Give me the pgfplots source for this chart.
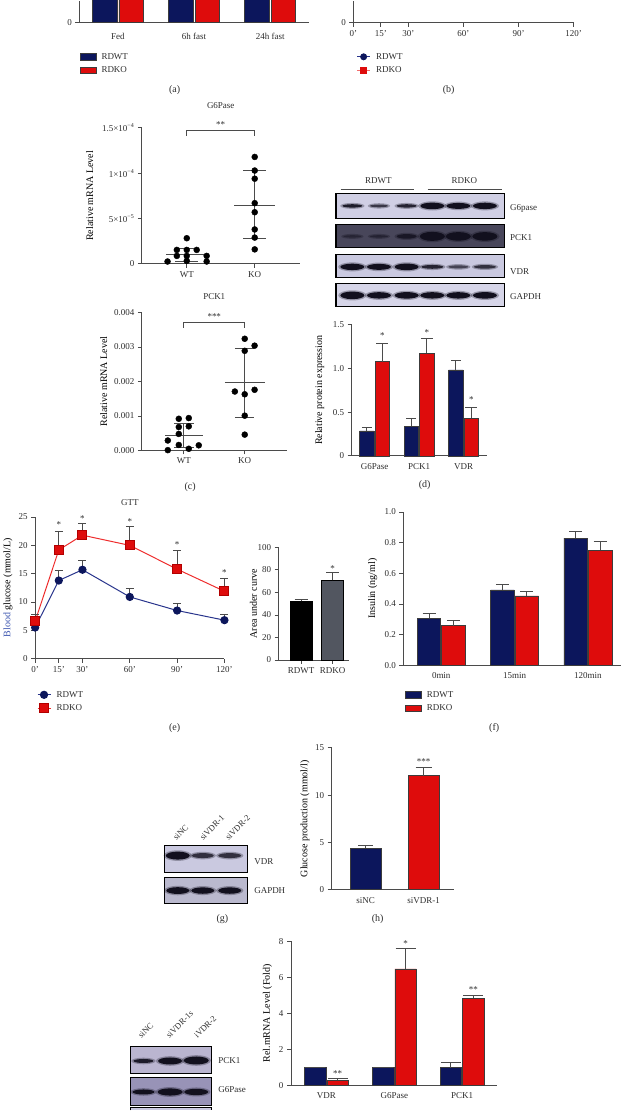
\documentclass[border=0pt]{standalone}
\usepackage{fontspec}
\setmainfont{Liberation Serif}
\usepackage{pgfplots}
\pgfplotsset{compat=1.18}

\definecolor{navy}{RGB}{12,22,92}
\definecolor{kored}{RGB}{222,12,12}
\definecolor{axgray}{RGB}{75,75,75}
\definecolor{txt}{RGB}{45,45,45}
\definecolor{linered}{RGB}{238,45,45}
\definecolor{lineblue}{RGB}{40,52,140}
\definecolor{kogray}{RGB}{82,86,96}
\definecolor{bloodblue}{RGB}{60,85,175}
\definecolor{baredge}{RGB}{60,60,60}
\definecolor{blotA}{RGB}{208,207,228}
\definecolor{blotB}{RGB}{72,70,90}
\definecolor{blotC}{RGB}{202,201,224}
\definecolor{blotD}{RGB}{214,213,232}
\definecolor{blotE}{RGB}{186,181,208}
\definecolor{blotF}{RGB}{152,147,183}
\definecolor{bandc}{RGB}{18,16,30}

\newcommand{\fs}{\fontsize{9}{10}\selectfont}
\newcommand{\fr}{\fontsize{8.5}{10}\selectfont}
\newcommand{\fl}{\fontsize{10}{12}\selectfont}
\newcommand{\band}[5]{%
  \fill[bandc, opacity=0.3] (#1,#2) ellipse [x radius={#3pt+2.2pt}, y radius={#4pt+1.3pt}];
  \fill[bandc, opacity=#5] (#1,#2) ellipse [x radius=#3pt, y radius=#4pt];}

\pgfplotsset{
  gp/.style={
    scale only axis, anchor=south west, clip=false,
    axis lines*=left,
    axis line style={axgray, line width=0.9pt},
    every tick/.style={axgray, line width=0.9pt},
    tick align=outside, major tick length=4pt,
    tick label style={font=\fs, text=txt},
    label style={font=\fs, text=txt},
    title style={font=\fs, text=txt},
    /pgf/number format/assume math mode=true,
    legend style={draw=none, fill=none, font=\fs, text=txt, inner sep=0pt, row sep=3.8pt, column sep=5pt,
      nodes={inner sep=0.5pt, text height=6.5pt, text depth=2pt}},
    legend cell align=left,
  },
  ylx/.style={every axis y label/.style={at={(axis description cs:#1,0.5)}, rotate=90, anchor=center}},
  barstyle/.style={draw=baredge, line width=0.5pt},
  errs/.style={error bars/y dir=plus, error bars/y explicit,
    error bars/error bar style={axgray, line width=0.9pt},
    error bars/error mark options={axgray, line width=0.9pt, rotate=90, mark size=#1}},
  barleg/.style={legend image code/.code={\draw[##1] (0pt,-3.3pt) rectangle (16pt,3.3pt);}},
  lineleg/.style={legend image code/.code={\draw[mark repeat=2, mark phase=2, ##1] plot coordinates {(0pt,0pt) (6.5pt,0pt) (13pt,0pt)};}},
  noxt/.style={xtick style={draw=none}},
}

\begin{document}
\begin{tikzpicture}
\path (0,0) rectangle (623pt,-1111pt);

% ---------------- (a) (top of panel is cut off) ----------------
\begin{axis}[gp, noxt, clip=true, at={(77.5pt,-22.7pt)}, width=229.5pt, height=22.2pt,
  xmin=0.495, xmax=3.505, ymin=0, ymax=1.11, ytick={0},
  xtick={1,2,3}, xticklabels={Fed,6h fast,24h fast},
  xticklabel style={yshift=-3pt},
  ybar=2pt, bar width=24.5pt, barleg,
  legend style={at={(axis description cs:0,0)}, anchor=north west, xshift=0pt, yshift=-29.2pt}]
\addplot[fill=navy, barstyle] coordinates {(1,7.5) (2,6.0) (3,4.8)};
\addplot[fill=kored, barstyle] coordinates {(1,8.2) (2,7.0) (3,6.0)};
\legend{RDWT,RDKO}
\end{axis}

% ---------------- (b) (top of panel is cut off) ----------------
\begin{axis}[gp, clip=true, at={(351.6pt,-22.7pt)}, width=220.5pt, height=22.2pt,
  xmin=0, xmax=120, ymin=0, ymax=1.11, ytick={0},
  xtick={0,15,30,60,90,120}, xticklabels={0',15',30',60',90',120'},
  lineleg,
  legend style={at={(axis description cs:0,0)}, anchor=north west, xshift=3.2pt, yshift=-29.2pt}]
\addplot[lineblue, line width=0.9pt, mark=*, mark size=3pt, mark options={fill=navy, draw=navy}] coordinates {(0,7.2) (15,5.2) (30,4.4) (60,4.6) (90,5.4) (120,6.0)};
\addplot[linered!70, line width=0.9pt, mark=square*, mark size=3pt, mark options={fill=kored, draw=kored}] coordinates {(0,7.6) (15,6.4) (30,5.6) (60,6.0) (90,6.7) (120,7.1)};
\legend{RDWT,RDKO}
\end{axis}

% ---------------- (c) G6Pase ----------------
\begin{axis}[gp, at={(140pt,-264pt)}, width=158pt, height=136pt,
  xmin=0.338, xmax=2.662, ymin=0, ymax=15,
  xtick={1,2}, xticklabels={WT,KO},
  ytick={0,5,10,15}, yticklabels={0,5×10\textsuperscript{−5},1×10\textsuperscript{−4},1.5×10\textsuperscript{−4}},
  title={G6Pase}, title style={yshift=10pt},
  ylabel={Relative mRNA Level}, ylx=-0.329]
\addplot[only marks, mark=*, mark size=3pt, black] coordinates {
 (1,2.83) (0.854,1.54) (1,1.54) (1.146,1.54) (0.854,0.88) (1,0.88) (1.293,0.88) (0.717,0.26) (1,0.33) (1.293,0.26)};
\addplot[only marks, mark=*, mark size=3pt, black] coordinates {
 (2,11.8) (2,10.3) (2,9.4) (2,6.7) (2,5.7) (2,3.8) (2,2.9) (2,1.6)};
\addplot[axgray, line width=0.9pt] coordinates {(0.7,1.0) (1.3,1.0)};
\addplot[axgray, line width=0.9pt] coordinates {(1,0.3) (1,1.73)};
\addplot[axgray, line width=0.9pt] coordinates {(0.83,1.73) (1.17,1.73)};
\addplot[axgray, line width=0.9pt] coordinates {(0.83,0.3) (1.17,0.3)};
\addplot[axgray, line width=0.9pt] coordinates {(1.7,6.5) (2.3,6.5)};
\addplot[axgray, line width=0.9pt] coordinates {(2,2.83) (2,10.26)};
\addplot[axgray, line width=0.9pt] coordinates {(1.83,10.26) (2.17,10.26)};
\addplot[axgray, line width=0.9pt] coordinates {(1.83,2.83) (2.17,2.83)};
\addplot[axgray, line width=0.7pt] coordinates {(1,14.12) (1,14.78) (2,14.78) (2,14.12)};
\node[font=\fs, text=txt, anchor=base] at (axis cs:1.5,15.1) {**};
\end{axis}

% ---------------- (c) PCK1 ----------------
\begin{axis}[gp, at={(140pt,-450.7pt)}, width=145pt, height=138pt,
  xmin=0.311, xmax=2.689, ymin=0, ymax=4,
  xtick={1,2}, xticklabels={WT,KO},
  ytick={0,1,2,3,4}, yticklabels={0.000,0.001,0.002,0.003,0.004},
  title={PCK1}, title style={yshift=3pt},
  ylabel={Relative mRNA Level}, ylx=-0.262]
\addplot[only marks, mark=*, mark size=3pt, black] coordinates {
 (0.918,0.92) (1.082,0.94) (0.918,0.68) (1.082,0.70) (0.918,0.48) (0.738,0.29) (0.918,0.16) (1.246,0.15) (0.738,0.01) (1.082,0.05)};
\addplot[only marks, mark=*, mark size=3pt, black] coordinates {
 (2,3.24) (2.162,3.04) (2,2.89) (1.838,1.71) (2.162,1.76) (2,1.63) (2,1.01) (2,0.46)};
\addplot[axgray, line width=0.9pt] coordinates {(0.7,0.435) (1.32,0.435)};
\addplot[axgray, line width=0.9pt] coordinates {(1,0.10) (1,0.79)};
\addplot[axgray, line width=0.9pt] coordinates {(0.84,0.79) (1.16,0.79)};
\addplot[axgray, line width=0.9pt] coordinates {(0.84,0.10) (1.16,0.10)};
\addplot[axgray, line width=0.9pt] coordinates {(1.675,1.97) (2.325,1.97)};
\addplot[axgray, line width=0.9pt] coordinates {(2,0.96) (2,2.97)};
\addplot[axgray, line width=0.9pt] coordinates {(1.84,2.97) (2.16,2.97)};
\addplot[axgray, line width=0.9pt] coordinates {(1.84,0.96) (2.16,0.96)};
\addplot[axgray, line width=0.7pt] coordinates {(1,3.556) (1,3.71) (2,3.71) (2,3.556)};
\node[font=\fs, text=txt, anchor=base] at (axis cs:1.5,3.794) {***};
\end{axis}

% ---------------- (d) bars ----------------
\begin{axis}[gp, noxt, at={(350pt,-456pt)}, width=135pt, height=131pt,
  xmin=0.483, xmax=3.517, ymin=0, ymax=1.5,
  ytick={0,0.5,1,1.5}, yticklabels={0,0.5,1.0,1.5},
  xtick={1,2,3}, xticklabels={G6Pase,PCK1,VDR},
  ylabel={Relative protein expression}, ylx=-0.237,
  ybar=1pt, bar width=14.5pt]
\addplot[fill=navy, barstyle, errs=5pt] coordinates {(1,0.286) +- (0,0.038) (2,0.336) +- (0,0.095) (3,0.985) +- (0,0.105)};
\addplot[fill=kored, barstyle, errs=6pt] coordinates {(1,1.08) +- (0,0.21) (2,1.176) +- (0,0.164) (3,0.43) +- (0,0.12)};
\node[font=\fs, text=txt, anchor=base, xshift=7.75pt] at (axis cs:1,1.342) {*};
\node[font=\fs, text=txt, anchor=base, xshift=7.75pt] at (axis cs:2,1.377) {*};
\node[font=\fs, text=txt, anchor=base, xshift=7.75pt] at (axis cs:3,0.606) {*};
\end{axis}

% ---------------- (e) GTT ----------------
\begin{axis}[gp, at={(33.3pt,-659pt)}, width=189.4pt, height=141.7pt,
  xmin=0, xmax=120, ymin=0, ymax=25, ytick={0,5,...,25},
  xtick={0,15,30,60,90,120}, xticklabels={0',15',30',60',90',120'},
  title={GTT}, title style={yshift=2pt},
  ylabel={{\color{bloodblue}Blood} glucose (mmol/L)}, ylx=-0.144,
  lineleg,
  legend style={at={(axis description cs:0,0)}, anchor=north west, xshift=1.7pt, yshift=-31.2pt}]
\addplot[lineblue, line width=1pt, mark=*, mark size=3.6pt, mark options={fill=navy, draw=navy}, errs=4pt] coordinates {
 (0,5.5) +- (0,0.6) (15,13.8) +- (0,1.8) (30,15.7) +- (0,1.6) (60,10.9) +- (0,1.45) (90,8.5) +- (0,1.2) (120,6.8) +- (0,1.0)};
\addplot[linered, line width=1pt, mark=square*, mark size=4.5pt, mark options={fill=kored, draw=red!70!black}, errs=4pt] coordinates {
 (0,6.6) +- (0,1.2) (15,19.2) +- (0,3.3) (30,21.8) +- (0,2.0) (60,20.0) +- (0,3.35) (90,15.8) +- (0,3.25) (120,11.9) +- (0,2.2)};
\legend{RDWT,RDKO}
\node[font=\fs, text=txt, anchor=base] at (axis cs:15,23.09) {*};
\node[font=\fs, text=txt, anchor=base] at (axis cs:30,24.26) {*};
\node[font=\fs, text=txt, anchor=base] at (axis cs:60,23.73) {*};
\node[font=\fs, text=txt, anchor=base] at (axis cs:90,19.57) {*};
\node[font=\fs, text=txt, anchor=base] at (axis cs:120,14.73) {*};
\end{axis}

% ---------------- (e) AUC ----------------
\begin{axis}[gp, at={(277pt,-660.3pt)}, width=70pt, height=112.6pt,
  xmin=0.286, xmax=2.508, ymin=0, ymax=100, ytick={0,20,...,100},
  xtick={1,2}, xticklabels={RDWT,RDKO},
  ylabel={Area under curve}, ylx=-0.36,
  ybar, bar width=22pt]
\addplot[fill=black, draw=black, bar shift=0pt, errs=6.5pt] coordinates {(1,52) +- (0,2)};
\addplot[fill=kogray, draw=black, bar shift=0pt, errs=6.5pt] coordinates {(2,70.7) +- (0,7.1)};
\node[font=\fs, text=txt, anchor=base] at (axis cs:2,78.3) {*};
\end{axis}

% ---------------- (f) insulin ----------------
\begin{axis}[gp, noxt, at={(401.7pt,-665.7pt)}, width=218pt, height=153.4pt,
  xmin=0.483, xmax=3.456, ymin=0, ymax=1.0, ytick={0,0.2,0.4,0.6,0.8,1.0},
  yticklabels={0.0,0.2,0.4,0.6,0.8,1.0},
  xtick={1,2,3}, xticklabels={0min,15min,120min},
  ylabel={Insulin (ng/ml)}, ylx=-0.141,
  ybar=1pt, bar width=23.5pt, barleg,
  legend style={at={(axis description cs:0,0)}, anchor=north west, xshift=1.3pt, yshift=-24.5pt}]
\addplot[fill=navy, barstyle, errs=6.5pt] coordinates {(1,0.309) +- (0,0.028) (2,0.493) +- (0,0.037) (3,0.83) +- (0,0.043)};
\addplot[fill=kored, barstyle, errs=6.5pt] coordinates {(1,0.26) +- (0,0.033) (2,0.454) +- (0,0.028) (3,0.752) +- (0,0.056)};
\legend{RDWT,RDKO}
\end{axis}

% ---------------- (h) glucose production ----------------
\begin{axis}[gp, noxt, at={(330pt,-890pt)}, width=122pt, height=141.7pt,
  xmin=0.414, xmax=2.517, ymin=0, ymax=15, ytick={0,5,10,15},
  xtick={1,2}, xticklabels={siNC,siVDR-1},
  ylabel={Glucose production (mmol/l)}, ylx=-0.219,
  ybar, bar width=31pt]
\addplot[fill=navy, barstyle, bar shift=0pt, errs=7.5pt] coordinates {(1,4.41) +- (0,0.25)};
\addplot[fill=kored, barstyle, bar shift=0pt, errs=8pt] coordinates {(2,12.06) +- (0,0.92)};
\node[font=\fs, text=txt, anchor=base] at (axis cs:2,13.28) {***};
\end{axis}

% ---------------- (i) rel mRNA ----------------
\begin{axis}[gp, noxt, at={(289.3pt,-1085.7pt)}, width=205.7pt, height=144pt,
  xmin=0.477, xmax=3.508, ymin=0, ymax=8, ytick={0,2,...,8},
  xtick={1,2,3}, xticklabels={VDR,G6Pase,PCK1},
  ylabel={Rel.mRNA Level (Fold)}, ylx=-0.115,
  ybar=1pt, bar width=21.5pt]
\addplot[fill=navy, barstyle, errs=10pt] coordinates {(1,0.97) +- (0,0.03) (2,0.97) +- (0,0.03) (3,0.97) +- (0,0.31)};
\addplot[fill=kored, barstyle, errs=10pt] coordinates {(1,0.28) +- (0,0.07) (2,6.47) +- (0,1.11) (3,4.82) +- (0,0.16)};
\node[font=\fs, text=txt, anchor=base, xshift=11.25pt] at (axis cs:1,0.51) {**};
\node[font=\fs, text=txt, anchor=base, xshift=11.25pt] at (axis cs:2,7.73) {*};
\node[font=\fs, text=txt, anchor=base, xshift=11.25pt] at (axis cs:3,5.14) {**};
\end{axis}

% ---------------- blots and labels ----------------
\begin{scope}[x=1pt,y=-1pt]
\node[font=\fl, text=txt] at (172.8,90) {(a)};
\node[font=\fl, text=txt] at (447,90) {(b)};
\node[font=\fl, text=txt] at (188.3,487) {(c)};
\node[font=\fl, text=txt] at (423,485) {(d)};
\node[font=\fl, text=txt] at (172.8,728.3) {(e)};
\node[font=\fl, text=txt] at (492.6,728.3) {(f)};
\node[font=\fl, text=txt] at (220.7,920) {(g)};
\node[font=\fl, text=txt] at (376,920) {(h)};

% (d) blot
\node[font=\fs, text=txt] at (376.7,181) {RDWT};
\node[font=\fs, text=txt] at (462.7,181) {RDKO};
\draw[axgray, line width=0.8pt] (339,189) -- (412.7,189);
\draw[axgray, line width=0.8pt] (426,189) -- (500,189);
\fill[blotA] (334.3,193.3) rectangle (502.7,218.3);
\band{350.7}{206}{10}{1.7}{0.9}
\band{377.3}{206}{9}{1.4}{0.7}
\band{405}{206}{10}{1.7}{0.85}
\band{430.7}{206}{12}{3.3}{1}
\band{456.7}{206}{12}{3}{1}
\band{483.3}{206}{12}{3.2}{1}
\draw[black, line width=1.1pt] (334.3,193.3) rectangle (502.7,218.3);
\fill[blotB] (334.3,224.3) rectangle (502.7,247.7);
\band{350.7}{236.5}{9}{1.2}{0.45}
\band{377.3}{236.5}{9}{1.2}{0.5}
\band{405}{236.5}{10}{2.3}{0.8}
\band{430.7}{236.5}{12.5}{4.5}{1}
\band{456.7}{236.5}{12.5}{4.3}{1}
\band{483.3}{236.5}{12.5}{4.3}{1}
\draw[black, line width=1.1pt] (334.3,224.3) rectangle (502.7,247.7);
\fill[blotC] (334.3,254.3) rectangle (502.7,277.7);
\band{350.7}{267}{12}{3.2}{1}
\band{377.3}{267}{12}{3}{1}
\band{405}{267}{12}{3.3}{1}
\band{430.7}{267}{11}{1.9}{0.85}
\band{456.7}{267}{10}{1.5}{0.6}
\band{483.3}{267}{11}{1.8}{0.75}
\draw[black, line width=1.1pt] (334.3,254.3) rectangle (502.7,277.7);
\fill[blotD] (334.3,284) rectangle (502.7,306.7);
\band{350.7}{295.5}{12}{3.8}{1}
\band{377.3}{295.5}{12}{3.2}{1}
\band{405}{295.5}{12}{3.3}{1}
\band{430.7}{295.5}{12}{3.2}{1}
\band{456.7}{295.5}{12}{3.2}{1}
\band{483.3}{295.5}{12}{3.3}{1}
\draw[black, line width=1.1pt] (334.3,284) rectangle (502.7,306.7);
\node[font=\fs, text=txt, anchor=west] at (505,209) {G6pase};
\node[font=\fs, text=txt, anchor=west] at (505,237.7) {PCK1};
\node[font=\fs, text=txt, anchor=west] at (505,272) {VDR};
\node[font=\fs, text=txt, anchor=west] at (505,296.7) {GAPDH};

% (g) blot
\node[font=\fr, text=txt, rotate=45, anchor=base west, inner sep=1pt] at (174,841.7) {siNC};
\node[font=\fr, text=txt, rotate=45, anchor=base west, inner sep=1pt] at (200.7,841.7) {siVDR-1};
\node[font=\fr, text=txt, rotate=45, anchor=base west, inner sep=1pt] at (226.3,841.7) {siVDR-2};
\fill[blotC] (162.7,845.7) rectangle (245.7,872.7);
\band{176}{856}{12}{4}{1}
\band{201}{856}{11}{2.5}{0.75}
\band{228}{856}{11.5}{2.5}{0.75}
\draw[black, line width=1.1pt] (162.7,845.7) rectangle (245.7,872.7);
\fill[blotC!92!black] (162.7,878.3) rectangle (245.7,903.5);
\band{176}{891}{11.5}{3.4}{1}
\band{201}{891}{11.5}{3.2}{1}
\band{228}{891}{11.5}{3.2}{1}
\draw[black, line width=1.1pt] (162.7,878.3) rectangle (245.7,903.5);
\node[font=\fs, text=txt, anchor=west] at (249,862) {VDR};
\node[font=\fs, text=txt, anchor=west] at (249,891) {GAPDH};

% (i) blot
\node[font=\fr, text=txt, rotate=45, anchor=base west, inner sep=1pt] at (139,1040) {siNC};
\node[font=\fr, text=txt, rotate=45, anchor=base west, inner sep=1pt] at (167,1040) {siVDR-1s};
\node[font=\fr, text=txt, rotate=45, anchor=base west, inner sep=1pt] at (195,1040) {iVDR-2};
\fill[blotE] (128.3,1046.7) rectangle (209.3,1074.3);
\band{141.7}{1061.5}{10}{2}{0.9}
\band{168.3}{1061.5}{12}{3.5}{1}
\band{194.5}{1061}{12.5}{4}{1}
\draw[black, line width=1.1pt] (128.3,1046.7) rectangle (209.3,1074.3);
\fill[blotF] (128.3,1077.7) rectangle (209.3,1105.7);
\band{141.7}{1092.5}{11}{2.5}{1}
\band{168.3}{1092.5}{12.5}{3.6}{1}
\band{194.5}{1092.5}{12}{3.2}{1}
\draw[black, line width=1.1pt] (128.3,1077.7) rectangle (209.3,1105.7);
\fill[blotC] (128.3,1108.3) rectangle (209.3,1111);
\draw[black, line width=1.1pt] (128.3,1111) -- (128.3,1108.3) -- (209.3,1108.3) -- (209.3,1111);
\node[font=\fs, text=txt, anchor=west] at (213,1060.7) {PCK1};
\node[font=\fs, text=txt, anchor=west] at (213,1090) {G6Pase};
\end{scope}
\end{tikzpicture}
\end{document}
